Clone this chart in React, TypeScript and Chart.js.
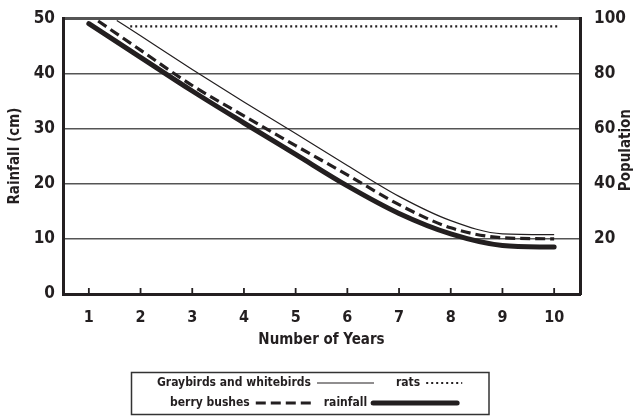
import React, { useEffect, useRef } from 'react';
import { Chart, registerables } from 'chart.js';

Chart.register(...registerables);

// ---- data ----
const yearTicks = [1, 2, 3, 4, 5, 6, 7, 8, 9, 10];
const rainfallX = [1, 2, 3, 4, 5, 6, 7, 8, 9, 10];
const rainfallCm = [49, 42.9, 36.8, 31.0, 25.3, 19.6, 14.6, 10.9, 8.8, 8.5];
const birdsX = [1.54, 2, 3, 4, 5, 6, 7, 8, 9, 10];
const birdsPop = [99.2, 93.6, 81.4, 69.6, 58.2, 46.6, 35.4, 26.6, 21.8, 21.5];
const berryX = [1.18, 2, 3, 4, 5, 6, 7, 8, 9, 10];
const berryPop = [99, 88.4, 75.6, 64.6, 53.8, 43.2, 32.4, 24, 20.4, 20];
const ratsX = [1.8, 10.1];
const ratsPop = [97, 97];
const rainfallTicks = [0, 10, 20, 30, 40, 50];
const populationTicks = [20, 40, 60, 80, 100];

const FONT = "'DejaVu Sans Condensed', 'DejaVu Sans', sans-serif";
const INK = '#231f20';

const pts = (xs: number[], ys: number[]) => xs.map((x, i) => ({ x, y: ys[i] }));

const legendRows = [
  { start: 157, y: 383, items: [
    { label: 'Graybirds and whitebirds', ds: 0, len: 57, gap: 22 },
    { label: 'rats', ds: 1, len: 36, gap: 0 },
  ] },
  { start: 170, y: 403, items: [
    { label: 'berry bushes', ds: 2, len: 58, gap: 10 },
    { label: 'rainfall', ds: 3, len: 84, gap: 0 },
  ] },
];

const extrasPlugin = {
  id: 'extras',
  afterDraw(chart: any) {
    const ctx = chart.ctx;
    const xs = chart.scales.x;
    const area = chart.chartArea;
    ctx.save();
    // inward tick marks on the bottom axis
    ctx.strokeStyle = INK;
    ctx.lineWidth = 1.8;
    xs.ticks.forEach((t: any) => {
      const px = xs.getPixelForValue(t.value);
      ctx.beginPath();
      ctx.moveTo(px, area.bottom);
      ctx.lineTo(px, area.bottom - 6);
      ctx.stroke();
    });
    // right axis title (reads bottom to top)
    ctx.save();
    ctx.translate(626, (area.top + area.bottom) / 2 - 6);
    ctx.rotate(-Math.PI / 2);
    ctx.font = `bold 15px ${FONT}`;
    ctx.fillStyle = INK;
    ctx.textAlign = 'center';
    ctx.textBaseline = 'middle';
    ctx.fillText('Population', 0, 0);
    ctx.restore();
    // legend box
    ctx.strokeStyle = '#333';
    ctx.lineWidth = 1.5;
    ctx.strokeRect(131.5, 372.5, 357.5, 42);
    ctx.font = `bold 12px ${FONT}`;
    ctx.textBaseline = 'middle';
    ctx.textAlign = 'left';
    legendRows.forEach((row) => {
      let x = row.start;
      row.items.forEach((it) => {
        const ds = chart.data.datasets[it.ds];
        ctx.fillStyle = INK;
        ctx.fillText(it.label, x, row.y);
        x += ctx.measureText(it.label).width + 6;
        ctx.save();
        ctx.strokeStyle = ds.borderColor;
        ctx.lineWidth = ds.borderWidth;
        ctx.setLineDash(ds.borderDash || []);
        ctx.lineCap = ds.borderCapStyle || 'butt';
        ctx.beginPath();
        ctx.moveTo(x, row.y);
        ctx.lineTo(x + it.len, row.y);
        ctx.stroke();
        ctx.restore();
        x += it.len + it.gap;
      });
    });
    ctx.restore();
  },
};

export default function App() {
  const ref = useRef<HTMLCanvasElement>(null);
  useEffect(() => {
    if (!ref.current) return;
    const chart = new Chart(ref.current, {
      type: 'line',
      data: {
        datasets: [
          {
            label: 'Graybirds and whitebirds',
            data: pts(birdsX, birdsPop),
            yAxisID: 'y1',
            borderColor: INK,
            borderWidth: 1.2,
            pointRadius: 0,
            cubicInterpolationMode: 'monotone',
          },
          {
            label: 'rats',
            data: pts(ratsX, ratsPop),
            yAxisID: 'y1',
            borderColor: INK,
            borderWidth: 2.2,
            borderDash: [2, 3],
            pointRadius: 0,
          },
          {
            label: 'berry bushes',
            data: pts(berryX, berryPop),
            yAxisID: 'y1',
            borderColor: INK,
            borderWidth: 3.2,
            borderDash: [10, 5],
            pointRadius: 0,
            cubicInterpolationMode: 'monotone',
          },
          {
            label: 'rainfall',
            data: pts(rainfallX, rainfallCm),
            yAxisID: 'y',
            borderColor: INK,
            borderWidth: 5,
            borderCapStyle: 'round',
            pointRadius: 0,
            cubicInterpolationMode: 'monotone',
          },
        ] as any,
      },
      options: {
        animation: false,
        responsive: true,
        maintainAspectRatio: false,
        layout: { padding: { top: 17, bottom: 60, left: 0, right: 0 } },
        plugins: { legend: { display: false }, tooltip: { enabled: false } },
        scales: {
          x: {
            type: 'linear',
            min: 0.5,
            max: 10.5,
            afterBuildTicks: (s: any) => { s.ticks = yearTicks.map((v) => ({ value: v })); },
            afterFit: (s: any) => { s.height = 62; },
            grid: { display: false },
            border: { display: true, color: INK, width: 3 },
            ticks: { color: INK, padding: 6, font: { family: FONT, size: 16, weight: 'bold' }, maxRotation: 0 },
            title: { display: true, text: 'Number of Years', color: INK, padding: { top: 0, bottom: 7 }, font: { family: FONT, size: 15, weight: 'bold' } },
          },
          y: {
            type: 'linear',
            position: 'left',
            min: 0,
            max: 50,
            afterBuildTicks: (s: any) => { s.ticks = rainfallTicks.map((v) => ({ value: v })); },
            afterFit: (s: any) => { s.width = 63; },
            grid: {
              drawTicks: false,
              color: '#555',
              lineWidth: (c: any) => (c.tick && c.tick.value === 50 ? 3 : c.tick && c.tick.value === 0 ? 0 : 1.4),
            },
            border: { display: true, color: INK, width: 3 },
            ticks: { color: INK, padding: 8, font: { family: FONT, size: 17, weight: 'bold' } },
            title: { display: true, text: 'Rainfall (cm)', color: INK, padding: { top: 6, bottom: 0 }, font: { family: FONT, size: 15, weight: 'bold' } },
          },
          y1: {
            type: 'linear',
            position: 'right',
            min: 0,
            max: 100,
            afterBuildTicks: (s: any) => { s.ticks = populationTicks.map((v) => ({ value: v })); },
            afterFit: (s: any) => { s.width = 57; },
            grid: { display: false },
            border: { display: true, color: INK, width: 3 },
            ticks: { color: INK, padding: 6, font: { family: FONT, size: 17, weight: 'bold' } },
          },
        },
      } as any,
      plugins: [extrasPlugin],
    });
    return () => chart.destroy();
  }, []);
  return (
    <div style={{ position: 'fixed', left: 0, top: 0, width: 637, height: 416, background: '#fff' }}>
      <canvas ref={ref} />
    </div>
  );
}
